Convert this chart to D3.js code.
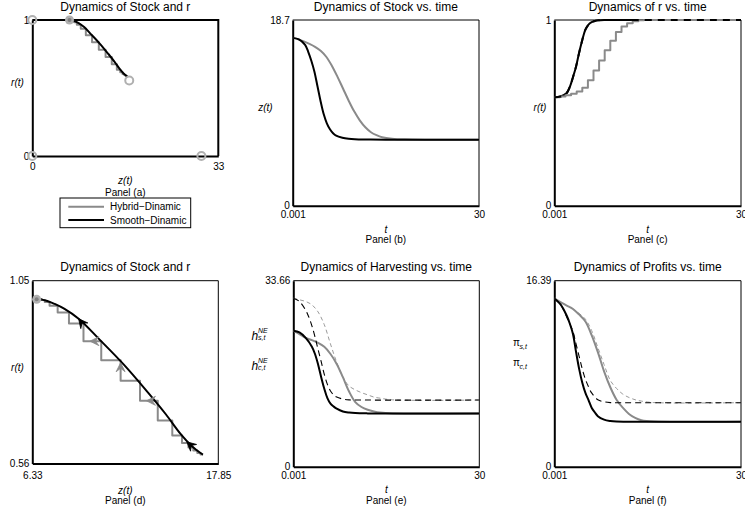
<!DOCTYPE html>
<html>
<head>
<meta charset="utf-8">
<script src="https://cdn.jsdelivr.net/npm/d3@7/dist/d3.min.js"></script>
<style>
body { margin: 0; background: #fff; }
svg { font-family: "Liberation Sans", Arial, Helvetica, sans-serif; }
</style>
</head>
<body>
<div id="chart"></div>
<script>
var width = 745,
    height = 517;

// ---- smooth dynamic (time, stock, r) ----
var tSmooth = [0.001, 1, 2, 2.5, 3, 3.5, 4, 4.5, 5, 5.5, 6, 6.5, 7, 8, 9, 10, 12, 15, 30];
var zSmooth = [16.9, 16.75, 16.2, 15.5, 14.6, 13.5, 12.0, 10.5, 9.2, 8.3, 7.7, 7.3, 7.05, 6.85, 6.75, 6.7, 6.67, 6.65, 6.65];
var rSmooth = [0.584, 0.588, 0.607, 0.64, 0.692, 0.75, 0.825, 0.892, 0.948, 0.975, 0.988, 0.995, 0.998, 1.0, 1.0, 1.0, 1.0, 1.0, 1.0];

// ---- hybrid dynamic (r updated at discrete times) ----
var tHybrid = [0.001, 0.9, 1.8, 2.7, 3.6, 4.5, 5.4, 6.3, 7.2, 8.1, 9.0, 9.9, 10.8, 11.7, 12.6, 13.5, 14.4, 16, 18, 22, 30];
var zHybrid = [16.9, 16.75, 16.55, 16.3, 16.0, 15.6, 15.0, 14.1, 13.0, 11.8, 10.6, 9.5, 8.6, 7.9, 7.4, 7.1, 6.9, 6.75, 6.68, 6.65, 6.65];
var rHybrid = [0.584, 0.588, 0.595, 0.603, 0.615, 0.635, 0.675, 0.728, 0.782, 0.837, 0.888, 0.935, 0.965, 0.983, 0.993, 0.998, 1.0, 1.0, 1.0, 1.0, 1.0];

// ---- harvesting ----
var tHsSmooth = [0.001, 1, 2, 3, 3.5, 4, 4.5, 5, 5.5, 6, 6.5, 7, 8, 9, 10, 12, 15, 30];
var hsSmooth  = [24.6, 24.3, 23.3, 21.7, 20.4, 18.5, 16.2, 14.1, 12.4, 11.4, 10.9, 10.5, 10.0, 9.8, 9.7, 9.65, 9.65, 9.65];
var tHcSmooth = [0.001, 1, 2, 2.5, 3, 3.5, 4, 4.5, 5, 5.5, 6, 6.5, 7, 8, 9, 12, 30];
var hcSmooth  = [30.5, 29.9, 28.3, 27.1, 25.5, 23.5, 21.2, 19.0, 16.7, 14.9, 13.7, 13.0, 12.6, 12.25, 12.1, 12.06, 12.06];
var tHsHybrid = [0.001, 1, 2, 3, 4, 5, 6, 7, 8, 9, 10, 11, 12, 13, 14, 16, 30];
var hsHybrid  = [24.6, 24.0, 23.3, 22.9, 22.4, 21.7, 20.4, 18.6, 16.2, 13.6, 11.7, 10.8, 10.3, 10.0, 9.8, 9.65, 9.65];
var tHcHybrid = [0.001, 1, 2, 3, 4, 5, 6, 7, 8, 9, 10, 11, 12, 13, 14, 16, 30];
var hcHybrid  = [30.5, 30.2, 29.9, 29.3, 28.0, 25.7, 22.2, 18.9, 16.2, 14.6, 13.9, 13.4, 13.0, 12.6, 12.4, 12.1, 12.06];

// ---- profits ----
var tPsSmooth = [0.001, 1, 2, 2.5, 3, 3.5, 4, 4.5, 5, 5.5, 6, 6.5, 7, 8, 9, 10, 12, 30];
var psSmooth  = [14.83, 14.3, 13.3, 12.6, 11.7, 10.1, 8.6, 7.4, 6.5, 5.87, 5.2, 4.8, 4.45, 4.15, 4.03, 3.98, 3.97, 3.97];
var tPcSmooth = [0.001, 1, 2, 3, 3.5, 4, 4.5, 5, 5.5, 6, 7, 8, 9, 12, 30];
var pcSmooth  = [14.83, 14.3, 13.2, 11.9, 10.8, 9.7, 8.6, 7.7, 7.05, 6.5, 5.9, 5.72, 5.65, 5.64, 5.64];
var tPsHybrid = [0.001, 1, 2, 3, 4, 5, 6, 7, 8, 9, 10, 11, 12, 13, 14, 16, 30];
var psHybrid  = [14.83, 14.5, 14.2, 13.9, 13.4, 12.8, 11.6, 10.1, 8.4, 7.0, 5.9, 5.2, 4.65, 4.3, 4.1, 3.98, 3.97];
var tPcHybrid = [0.001, 1, 2, 3, 4, 5, 6, 7, 8, 9, 10, 11, 12, 13, 14, 16, 30];
var pcHybrid  = [14.83, 14.5, 14.2, 13.9, 13.5, 13.0, 12.0, 10.5, 9.0, 7.6, 6.9, 6.4, 6.1, 5.9, 5.78, 5.65, 5.64];

// ---- markers in the (z, r) plane ----
var steadyZ = [0, 0, 30, 17.2];
var steadyR = [1, 0, 0, 0.555];
var startZ = 6.6, startR = 1.0;
// arrowheads: [fromZ, fromR, tipZ, tipR]
var smoothArrows = [[10.0, 0.905, 9.2, 0.948], [16.5, 0.595, 15.9, 0.618]];
var hybridArrows = [[10.4, 0.888, 9.9, 0.888], [11.8, 0.80, 11.8, 0.83], [13.9, 0.728, 13.4, 0.728]];

// ---- axes ranges and tick labels ----
var tDomain = [0.001, 30], tTicks = ['0.001', '30'];
var aX = [0, 33], aXTicks = ['0', '33'], aY = [0, 1], aYTicks = ['0', '1'];
var bY = [0, 18.7], bYTicks = ['0', '18.7'];
var cY = [0, 1], cYTicks = ['0', '1'];
var dX = [6.33, 17.85], dXTicks = ['6.33', '17.85'], dY = [0.56, 1.05], dYTicks = ['0.56', '1.05'];
var eY = [0, 33.66], eYTicks = ['0', '33.66'];
var fY = [0, 16.39], fYTicks = ['0', '16.39'];

var grey = '#8a8a8a',
    lightGrey = '#b0b0b0';

var svg = d3.select('#chart').append('svg')
    .attr('width', width)
    .attr('height', height);

function zip(xs, ys) {
    return xs.map(function(v, i) { return [v, ys[i]]; });
}

function panel(box, xd, yd, xTicks, yTicks, opt) {
    var x = d3.scaleLinear().domain(xd).range([box.x0, box.x1]);
    var y = d3.scaleLinear().domain(yd).range([box.y1, box.y0]);
    var g = svg.append('g');
    var heavy = opt.heavyBox ? 2 : 1;

    // top + right border
    g.append('path')
        .attr('d', 'M' + box.x0 + ',' + box.y0 + 'H' + box.x1 + 'V' + box.y1)
        .attr('fill', 'none').attr('stroke', '#000').attr('stroke-width', heavy);

    var ax = g.append('g')
        .attr('transform', 'translate(0,' + box.y1 + ')')
        .call(d3.axisBottom(x).tickValues(xd).tickSize(0).tickPadding(opt.xPad)
            .tickFormat(function(d, i) { return xTicks[i]; }));
    var ay = g.append('g')
        .attr('transform', 'translate(' + box.x0 + ',0)')
        .call(d3.axisLeft(y).tickValues(yd).tickSize(0).tickPadding(3)
            .tickFormat(function(d, i) { return yTicks[i]; }));
    [ax, ay].forEach(function(a) {
        a.select('.domain').attr('stroke-width', 2);
        a.selectAll('text').attr('font-size', 10).attr('fill', '#000')
            .attr('font-family', '"Liberation Sans", Arial, sans-serif');
    });

    var cx = (box.x0 + box.x1) / 2;
    g.append('text').attr('x', cx).attr('y', box.y0 - 9.5)
        .attr('text-anchor', 'middle').attr('font-size', 12).text(opt.title);
    g.append('text').attr('x', cx).attr('y', opt.xLabelY)
        .attr('text-anchor', 'middle').attr('font-size', 10).attr('font-style', 'italic')
        .text(opt.xLabel);
    g.append('text').attr('x', cx).attr('y', opt.panelY)
        .attr('text-anchor', 'middle').attr('font-size', 10).text(opt.panel);
    if (opt.yLabel) {
        g.append('text').attr('x', opt.yLabelX).attr('y', opt.yLabelY)
            .attr('text-anchor', 'middle').attr('font-size', 10).attr('font-style', 'italic')
            .text(opt.yLabel);
    }
    var clip = 'clip' + opt.panel.replace(/\W/g, '');
    svg.append('clipPath').attr('id', clip).append('rect')
        .attr('x', box.x0).attr('y', box.y0 - 2)
        .attr('width', box.x1 - box.x0 + 2).attr('height', box.y1 - box.y0 + 2);
    var plot = g.append('g').attr('clip-path', 'url(#' + clip + ')');
    return { g: g, plot: plot, x: x, y: y };
}

function drawLine(p, pts, color, w, dash, curve) {
    var line = d3.line()
        .x(function(d) { return p.x(d[0]); })
        .y(function(d) { return p.y(d[1]); })
        .curve(curve || d3.curveCatmullRom);
    p.plot.append('path')
        .attr('d', line(pts))
        .attr('fill', 'none')
        .attr('stroke', color)
        .attr('stroke-width', w)
        .attr('stroke-dasharray', dash || null)
        .attr('stroke-linejoin', 'round');
}

function drawArrows(p, arrows, color) {
    p.g.selectAll(null)
        .data(arrows)
        .enter().append('path')
        .attr('d', 'M0,0L-9,-4.5L-5.5,0L-9,4.5Z')
        .attr('fill', color)
        .attr('stroke', color)
        .attr('stroke-width', 0.8)
        .attr('transform', function(d) {
            var x0 = p.x(d[0]), y0 = p.y(d[1]), x1 = p.x(d[2]), y1 = p.y(d[3]);
            var ang = Math.atan2(y1 - y0, x1 - x0) * 180 / Math.PI;
            return 'translate(' + x1 + ',' + y1 + ') rotate(' + ang + ')';
        });
}

// ---------- Panel (a) ----------
var pa = panel({ x0: 32.3, x1: 218.3, y0: 20, y1: 156 }, aX, aY, aXTicks, aYTicks, {
    heavyBox: true, xPad: 7, title: 'Dynamics of Stock and r',
    xLabel: 'z(t)', xLabelY: 183.5, panel: 'Panel (a)', panelY: 196,
    yLabel: 'r(t)', yLabelX: 17.5, yLabelY: 86
});
drawLine(pa, zip(zHybrid, rHybrid), grey, 2, null, d3.curveStepAfter);
drawLine(pa, zip(zSmooth, rSmooth), '#000', 2);
pa.g.selectAll(null).data(steadyZ).enter().append('circle')
    .attr('cx', function(d) { return pa.x(d); })
    .attr('cy', function(d, i) { return pa.y(steadyR[i]); })
    .attr('r', 4).attr('fill', 'none').attr('stroke', lightGrey).attr('stroke-width', 2);
pa.g.append('circle').attr('cx', pa.x(startZ)).attr('cy', pa.y(startR))
    .attr('r', 4.5).attr('fill', lightGrey);
pa.g.append('circle').attr('cx', pa.x(startZ)).attr('cy', pa.y(startR))
    .attr('r', 2).attr('fill', '#808080');

// legend
var lg = svg.append('g');
lg.append('rect').attr('x', 60).attr('y', 198).attr('width', 130.7).attr('height', 29.7)
    .attr('fill', '#fff').attr('stroke', '#000').attr('stroke-width', 1);
var legendItems = ['Hybrid\u2212Dinamic', 'Smooth\u2212Dinamic'];
var legendColors = [grey, '#000'];
legendItems.forEach(function(name, i) {
    var yy = 206.7 + i * 13.3;
    lg.append('line').attr('x1', 68.3).attr('x2', 104).attr('y1', yy).attr('y2', yy)
        .attr('stroke', legendColors[i]).attr('stroke-width', 2);
    lg.append('text').attr('x', 110).attr('y', yy + 3.6).attr('font-size', 10).text(name);
});

// ---------- Panel (b) ----------
var pb = panel({ x0: 292.7, x1: 479, y0: 20, y1: 205.7 }, tDomain, bY, tTicks, bYTicks, {
    xPad: 5, title: 'Dynamics of Stock vs. time',
    xLabel: 't', xLabelY: 232.5, panel: 'Panel (b)', panelY: 242.5,
    yLabel: 'z(t)', yLabelX: 265.5, yLabelY: 111
});
drawLine(pb, zip(tHybrid, zHybrid), grey, 2);
drawLine(pb, zip(tSmooth, zSmooth), '#000', 2);

// ---------- Panel (c) ----------
var pc = panel({ x0: 554.3, x1: 741, y0: 20, y1: 205.7 }, tDomain, cY, tTicks, cYTicks, {
    xPad: 5, title: 'Dynamics of r vs. time',
    xLabel: 't', xLabelY: 232.5, panel: 'Panel (c)', panelY: 242.5,
    yLabel: 'r(t)', yLabelX: 540, yLabelY: 111
});
drawLine(pc, zip(tSmooth, rSmooth), '#000', 2);
drawLine(pc, zip(tHybrid, rHybrid), grey, 2, null, d3.curveStepAfter);
drawLine(pc, zip(tSmooth, rSmooth), '#000', 2, '7,6');

// ---------- Panel (d) ----------
var pd = panel({ x0: 32.3, x1: 218.3, y0: 280.7, y1: 463.5 }, dX, dY, dXTicks, dYTicks, {
    xPad: 8, title: 'Dynamics of Stock and r',
    xLabel: 'z(t)', xLabelY: 493.5, panel: 'Panel (d)', panelY: 503.5,
    yLabel: 'r(t)', yLabelX: 17.5, yLabelY: 371
});
drawLine(pd, zip(zHybrid, rHybrid), grey, 2, null, d3.curveStepAfter);
drawLine(pd, zip(zSmooth, rSmooth), '#000', 2);
drawArrows(pd, hybridArrows, grey);
drawArrows(pd, smoothArrows, '#000');
pd.g.append('circle').attr('cx', pd.x(startZ)).attr('cy', pd.y(startR))
    .attr('r', 4.5).attr('fill', lightGrey);
pd.g.append('circle').attr('cx', pd.x(startZ)).attr('cy', pd.y(startR))
    .attr('r', 2).attr('fill', '#808080');

// ---------- Panel (e) ----------
var pe = panel({ x0: 293.3, x1: 479.3, y0: 280.7, y1: 466.7 }, tDomain, eY, tTicks, eYTicks, {
    xPad: 5, title: 'Dynamics of Harvesting vs. time',
    xLabel: 't', xLabelY: 493, panel: 'Panel (e)', panelY: 503.5
});
drawLine(pe, zip(tHcHybrid, hcHybrid), '#9a9a9a', 1, '4,3');
drawLine(pe, zip(tHsHybrid, hsHybrid), grey, 2);
drawLine(pe, zip(tHcSmooth, hcSmooth), '#000', 1.1, '6,4');
drawLine(pe, zip(tHsSmooth, hsSmooth), '#000', 2);

// y labels h^NE_{s,t}, h^NE_{c,t}
[['s,t', 339.5], ['c,t', 369.5]].forEach(function(l) {
    pe.g.append('text').attr('x', 251.5).attr('y', l[1]).attr('font-size', 12)
        .attr('font-style', 'italic').text('h');
    pe.g.append('text').attr('x', 258).attr('y', l[1] - 6.5).attr('font-size', 7)
        .attr('font-style', 'italic').text('NE');
    pe.g.append('text').attr('x', 258).attr('y', l[1]).attr('font-size', 7)
        .attr('font-style', 'italic').text(l[0]);
});

// ---------- Panel (f) ----------
var pf = panel({ x0: 554.3, x1: 741, y0: 280.7, y1: 466.7 }, tDomain, fY, tTicks, fYTicks, {
    xPad: 5, title: 'Dynamics of Profits vs. time',
    xLabel: 't', xLabelY: 493, panel: 'Panel (f)', panelY: 503.5
});
drawLine(pf, zip(tPcHybrid, pcHybrid), '#9a9a9a', 1, '4,3');
drawLine(pf, zip(tPsHybrid, psHybrid), grey, 2);
drawLine(pf, zip(tPcSmooth, pcSmooth), '#000', 1.1, '6,4');
drawLine(pf, zip(tPsSmooth, psSmooth), '#000', 2);

[['s,t', 345.5], ['c,t', 365.5]].forEach(function(l) {
    pf.g.append('text').attr('x', 513).attr('y', l[1]).attr('font-size', 10).text('\u03c0');
    pf.g.append('text').attr('x', 519.5).attr('y', l[1] + 3).attr('font-size', 7)
        .attr('font-style', 'italic').text(l[0]);
});
</script>
</body>
</html>
